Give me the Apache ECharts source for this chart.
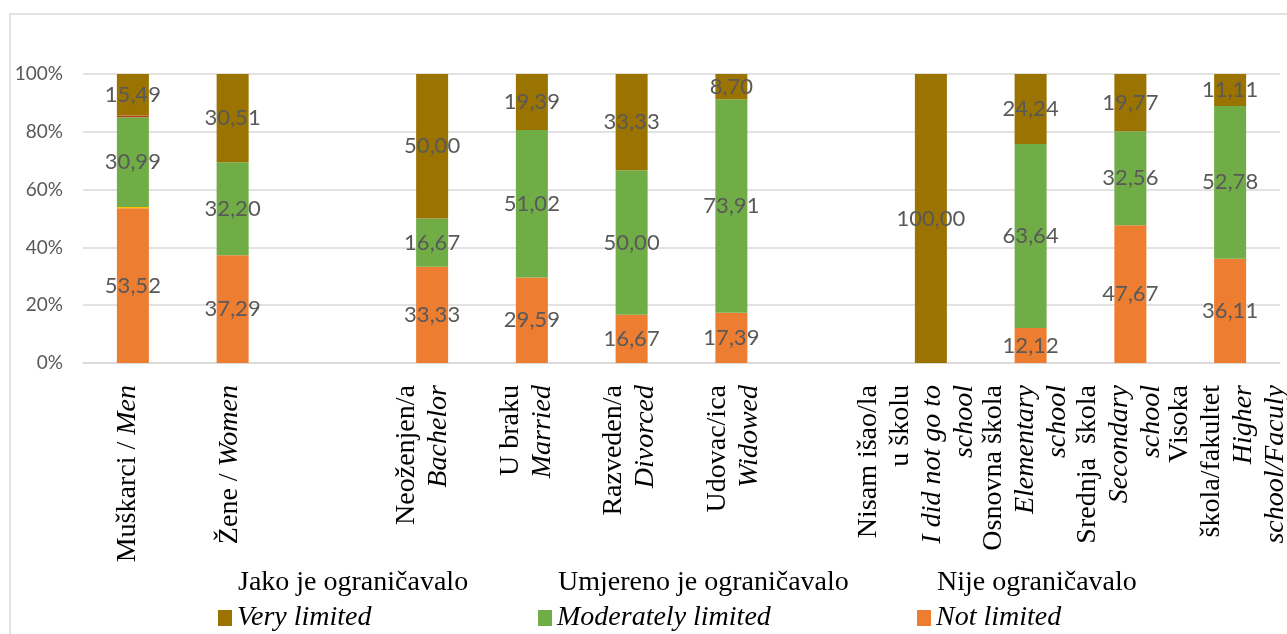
<!DOCTYPE html>
<html>
<head>
<meta charset="utf-8">
<script src="https://cdn.jsdelivr.net/npm/echarts@6/dist/echarts.min.js"></script>
<style>
  html, body { margin: 0; padding: 0; background: #fff; }
  #chart { width: 1287px; height: 634px; }
</style>
</head>
<body>
<div id="chart"></div>
<script>
// category labels: Serbian line(s) and English (italic) line(s); '' = empty gap slot
const catSr = ['Muškarci /', 'Žene /', '', 'Neoženjen/a', 'U braku', 'Razveden/a', 'Udovac/ica', '',
  'Nisam išao/la\nu školu', 'Osnovna škola', 'Srednja  škola', 'Visoka\nškola/fakultet'];
const catEn = ['Men', 'Women', '', 'Bachelor', 'Married', 'Divorced', 'Widowed', '',
  'I did not go to\nschool', 'Elementary\nschool', 'Secondary\nschool', 'Higher\nschool/Faculy'];

const notLimited = [53.52, 37.29, null, 33.33, 29.59, 16.67, 17.39, null, null, 12.12, 47.67, 36.11];
const moderately = [30.99, 32.20, null, 16.67, 51.02, 50.00, 73.91, null, null, 63.64, 32.56, 52.78];
const veryLimited = [15.49, 30.51, null, 50.00, 19.39, 33.33, 8.70, null, 100.00, 24.24, 19.77, 11.11];
// thin slivers visible on the first bar only
const sliverYellow = [0.5, null, null, null, null, null, null, null, null, null, null, null];
const sliverRed = [0.6, null, null, null, null, null, null, null, null, null, null, null];

const legendSr = ['Jako je ograničavalo', 'Umjereno je ograničavalo', 'Nije ograničavalo'];
const legendEn = ['Very limited', 'Moderately limited', 'Not limited'];
const yTicks = [0, 20, 40, 60, 80, 100];

const serif = '"Liberation Serif", "Times New Roman", serif';
const sans = 'Lato, "Open Sans", sans-serif';
const colors = { very: '#9A7300', mod: '#70AD47', not: '#ED7D31', yel: '#FFC000', red: '#B8461B' };

// horizontal nudge (px) of each rotated label block, done with an invisible spacer line
const labelNudge = [-5, -3, 0, -9, -5, -2, 2, 0, -14, -5, -11, -2];
const spacerRich = {};
labelNudge.forEach(n => {
  if (n) spacerRich['s' + Math.abs(n)] = { fontSize: 1, lineHeight: Math.abs(n) * 2 };
});

const chart = echarts.init(document.getElementById('chart'));

const valueLabel = {
  show: true,
  position: 'inside',
  color: '#595959',
  fontFamily: sans,
  fontSize: 22,
  formatter: p => p.value == null ? '' : p.value.toFixed(2).replace('.', ',')
};

function barSeries(name, data, color, withLabel) {
  return {
    name: name,
    type: 'bar',
    stack: 'total',
    barWidth: 32,
    data: data,
    itemStyle: { color: color },
    label: withLabel ? valueLabel : { show: false },
    emphasis: { disabled: true }
  };
}

const legendLefts = [218, 538, 917];

chart.setOption({
  animation: false,
  grid: { left: 83, right: 7, top: 74, bottom: 271, outerBoundsMode: 'none' },
  legend: legendEn.map((n, i) => ({
    data: [n],
    left: legendLefts[i],
    top: 604,
    padding: 0,
    itemWidth: 14,
    itemHeight: 16,
    icon: 'rect',
    selectedMode: false,
    textStyle: { fontFamily: serif, fontSize: 28, fontStyle: 'italic', color: '#000' }
  })),
  graphic: [
    {
      type: 'rect', silent: true, z: -1,
      shape: { x: 10, y: 14, width: 1300, height: 700 },
      style: { fill: 'none', stroke: '#d9d9d9', lineWidth: 1.5 }
    }
  ].concat(legendSr.map((t, i) => ({
    type: 'text', silent: true,
    x: legendLefts[i] + 20, y: 583,
    style: { text: t, font: '28px ' + serif, fill: '#000', verticalAlign: 'middle' }
  }))),
  xAxis: {
    type: 'category',
    data: catSr.map((s, i) => s + '|' + catEn[i] + '|' + i),
    axisLine: { lineStyle: { color: '#d9d9d9', width: 1.5 } },
    axisTick: { show: false },
    axisLabel: {
      interval: 0,
      rotate: 90,
      margin: 22,
      color: '#000',
      fontFamily: serif,
      fontSize: 28,
      lineHeight: 32,
      formatter: (v, idx) => {
        const sr = catSr[idx], en = catEn[idx];
        if (!sr) return '';
        const enRich = en.split('\n').map(l => '{i|' + l + '}');
        let lines = idx < 2 ? [sr + ' ' + enRich.join('\n')] : sr.split('\n').concat(enRich);
        const n = labelNudge[idx];
        const spacer = '{s' + Math.abs(n) + '| }';
        if (n > 0) lines = [spacer].concat(lines);
        if (n < 0) lines = lines.concat([spacer]);
        return lines.join('\n');
      },
      rich: Object.assign({
        i: { fontStyle: 'italic', fontFamily: serif, fontSize: 28, lineHeight: 32, color: '#000' }
      }, spacerRich)
    }
  },
  yAxis: {
    type: 'value',
    min: yTicks[0],
    max: yTicks[yTicks.length - 1],
    interval: 20,
    axisLine: { show: false },
    axisTick: { show: false },
    splitLine: { lineStyle: { color: '#d9d9d9', width: 1.5 } },
    axisLabel: {
      margin: 20,
      color: '#595959',
      fontFamily: sans,
      fontSize: 19,
      formatter: v => v + '%'
    }
  },
  series: [
    barSeries('Not limited', notLimited, colors.not, true),
    barSeries('sliverYellow', sliverYellow, colors.yel, false),
    barSeries('Moderately limited', moderately, colors.mod, true),
    barSeries('sliverRed', sliverRed, colors.red, false),
    barSeries('Very limited', veryLimited, colors.very, true)
  ]
});
</script>
</body>
</html>
